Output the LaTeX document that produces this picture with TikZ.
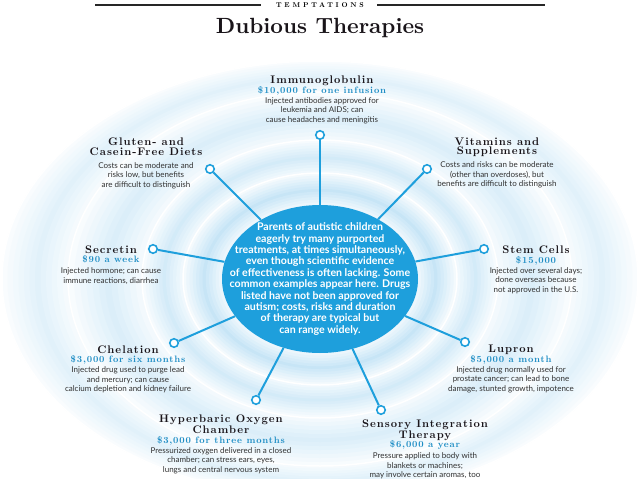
\documentclass[tikz,border=0pt]{standalone}
\usepackage{fontspec}
\setsansfont{Lato}
\usetikzlibrary{shapes.geometric, positioning}

\definecolor{hubblue}{RGB}{30,159,220}
\definecolor{priceblue}{RGB}{28,140,196}
\definecolor{ringblue}{RGB}{196,228,246}
\definecolor{inkgray}{RGB}{50,50,50}
\definecolor{headink}{RGB}{25,20,25}

\newfontfamily\lmtitle[Extension=.otf]{lmroman10-bold}
\newfontfamily\lmhead[Extension=.otf,LetterSpace=9]{lmroman10-bold}
\newfontfamily\lmcaps[Extension=.otf,LetterSpace=40]{lmroman10-bold}

\newcommand{\titlefont}{\lmtitle\fontsize{22}{24}\selectfont}
\newcommand{\kickerfont}{\lmcaps\fontsize{7}{7}\selectfont}
\newcommand{\headfont}{\color{headink}\lmhead\fontsize{11}{10}\selectfont}
\newcommand{\pricefont}{\color{priceblue}\lmhead\fontsize{9.3}{10}\selectfont}
\newcommand{\descfont}{\color{inkgray}\sffamily\fontsize{8}{9.5}\selectfont}
\newcommand{\hubfont}{\sffamily\bfseries\fontsize{10.6}{11.4}\selectfont}

\begin{document}
\begin{tikzpicture}[x=1pt, y=-1pt,
    ringline/.style={white, line width=1.5pt},
    hub/.style={ellipse, fill=hubblue, minimum width=196pt, minimum height=148pt, inner sep=0pt},
    spoke/.style={hubblue, line width=2pt},
    pinhead/.style={circle, draw=hubblue, line width=1.6pt, fill=white, minimum size=8.5pt, inner sep=0pt},
    therapy/.style={align=center, anchor=north, inner sep=0pt, font=\descfont},
    rule/.style={line width=1.6pt, black!85}]
    \clip (0,0) rectangle (638,479);
    \fill[white] (0,0) rectangle (638,479);

    % rings: outer radii / inner radii / strongest tint of the band
    \foreach \ra/\rb/\ia/\ib/\peak in {318/218/252/187/50, 252/187/178/139/62, 178/139/137/106/75, 137/106/98/74/95} {
        \foreach \t in {12,11,...,1} {
            \pgfmathsetmacro\tint{\peak*(1-abs(\t-6)/7.5)}
            \fill[ringblue!\tint] (320,279) ellipse [x radius={(\ia+(\ra-\ia)*\t/12)*1pt}, y radius={(\ib+(\rb-\ib)*\t/12)*1pt}];
        }
        \draw[ringline] (320,279) ellipse [x radius=\ra pt, y radius=\rb pt];
    }

    % heading
    \node[font=\kickerfont] (kicker) at (320,5) {TEMPTATIONS};
    \draw[rule] (95,5) -- (261,5);
    \draw[rule] (377,5) -- (545,5);
    \node[font=\titlefont, text=headink] (title) at (320,28) {Dubious Therapies};

    % hub
    \node[hub] (hub) at (320,279) {};
    \node[align=center, text=white, font=\hubfont] (hubtext) at (hub) {Parents of autistic children\\
        eagerly try many purported\\
        treatments, at times simultaneously,\\
        even though scientific evidence\\
        of effectiveness is often lacking. Some\\
        common examples appear here. Drugs\\
        listed have not been approved for\\
        autism; costs, risks and duration\\
        of therapy are typical but\\
        can range widely.};

    % pins
    \node[pinhead] (pimmuno) at (320,135) {};
    \node[pinhead] (pgluten) at (210,169) {};
    \node[pinhead] (pvitamins) at (427,169) {};
    \node[pinhead] (psecretin) at (153,249) {};
    \node[pinhead] (pstemcells) at (484,249) {};
    \node[pinhead] (pchelation) at (174,343) {};
    \node[pinhead] (plupron) at (465,342) {};
    \node[pinhead] (phyperbaric) at (256,400) {};
    \node[pinhead] (psensory) at (381,410) {};
    \foreach \p in {pimmuno, pgluten, pvitamins, psecretin, pstemcells, pchelation, plupron, phyperbaric, psensory}
        \draw[spoke] (hub) -- (\p);

    % therapies
    \node[therapy] (immuno) at (322,75.2) {\headfont Immunoglobulin\\[0.5pt]
        \pricefont \$10,000 for one infusion\\[0.5pt]
        Injected antibodies approved for\\ leukemia and AIDS; can\\ cause headaches and meningitis};
    \node[therapy] (gluten) at (146,137.2) {\headfont Gluten- and\\[0.5pt] \headfont Casein-Free Diets\\[3.5pt]
        Costs can be moderate and\\ risks low, but benefits\\ are difficult to distinguish};
    \node[therapy] (vitamins) at (497,137.2) {\headfont Vitamins and\\ \headfont Supplements\\[3.5pt]
        Costs and risks can be moderate\\ (other than overdoses), but\\ benefits are difficult to distinguish};
    \node[therapy] (secretin) at (111,245.2) {\headfont Secretin\\
        \pricefont \$90 a week\\[1.5pt]
        Injected hormone; can cause\\ immune reactions, diarrhea};
    \node[therapy] (stemcells) at (536,245.2) {\headfont Stem Cells\\[0.5pt]
        \pricefont \$15,000\\[0.5pt]
        Injected over several days;\\ done overseas because\\ not approved in the U.S.};
    \node[therapy] (chelation) at (128,345.2) {\headfont Chelation\\
        \pricefont \$3,000 for six months\\[0.5pt]
        Injected drug used to purge lead\\ and mercury; can cause\\ calcium depletion and kidney failure};
    \node[therapy] (lupron) at (511,345.2) {\headfont Lupron\\
        \pricefont \$5,000 a month\\[0.5pt]
        Injected drug normally used for\\ prostate cancer; can lead to bone\\ damage, stunted growth, impotence};
    \node[therapy] (hyperbaric) at (221,414.2) {\headfont Hyperbaric Oxygen\\[0.5pt] \headfont Chamber\\[0.5pt]
        \pricefont \$3,000 for three months\\[0.5pt]
        Pressurized oxygen delivered in a closed\\ chamber; can stress ears, eyes,\\ lungs and central nervous system};
    \node[therapy] (sensory) at (425,419.2) {\headfont Sensory Integration\\[0.5pt] \headfont Therapy\\
        \pricefont \$6,000 a year\\[1.5pt]
        Pressure applied to body with\\ blankets or machines;\\ may involve certain aromas, too};
\end{tikzpicture}
\end{document}
